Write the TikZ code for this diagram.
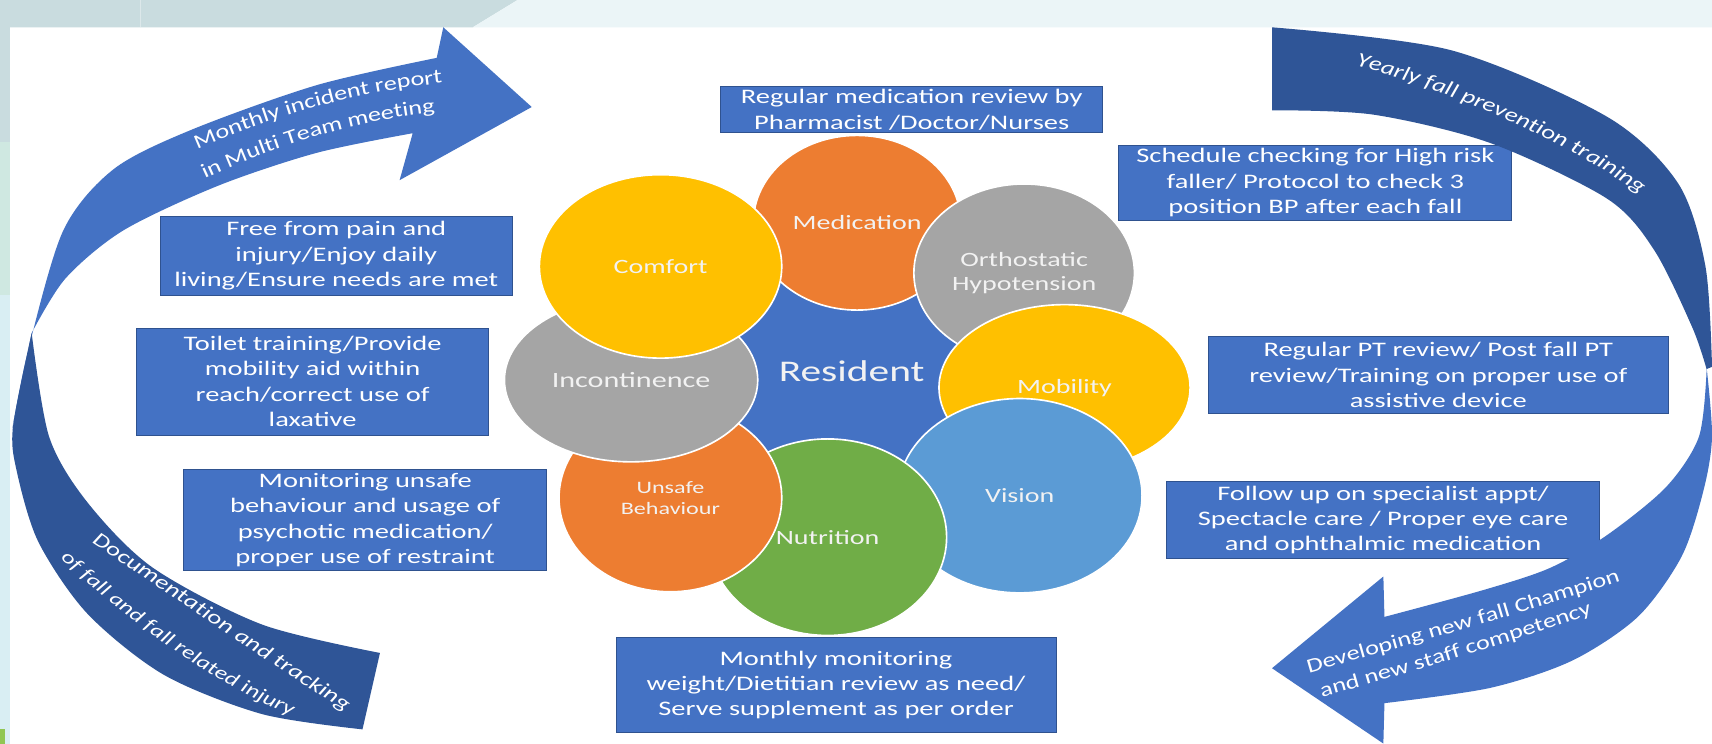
\documentclass[tikz,border=0pt]{standalone}
\usepackage{fontspec}
\setmainfont{Carlito}[FakeStretch=1.38]
\newfontfamily\arcfont{Carlito}[FakeStretch=1.3]
\usepackage{tikz}
\usetikzlibrary{shapes.geometric, decorations.text}

\definecolor{resblue}{HTML}{4472C4}
\definecolor{boxedge}{HTML}{2F528F}
\definecolor{bandblue}{HTML}{2F5597}
\definecolor{medorange}{HTML}{ED7D31}
\definecolor{comfyellow}{HTML}{FFC000}
\definecolor{hypogrey}{HTML}{A5A5A5}
\definecolor{visblue}{HTML}{5B9BD5}
\definecolor{nutgreen}{HTML}{70AD47}
\definecolor{bubbletext}{HTML}{F2F2F2}
\definecolor{stripgrey}{HTML}{C9DCDF}
\definecolor{stripwhite}{HTML}{EBF5F7}
\definecolor{stripline}{HTML}{DCE8EA}
\definecolor{edgegreen}{HTML}{CFE8E1}
\definecolor{edgeblue}{HTML}{D9EEF3}
\definecolor{leafgreen}{HTML}{90C653}

\newcommand\arctextfont{\arcfont\fontsize{18.5}{20}\selectfont}
\newcommand\arcsmallfont{\arcfont\fontsize{17.5}{20}\selectfont}

\begin{document}
\begin{tikzpicture}[x=1pt, y=-1pt,
    bubble/.style={ellipse, draw=white, line width=1.5pt, inner sep=0pt, text=bubbletext, align=center, font=\fontsize{18.6}{22}\selectfont},
    infobox/.style={rectangle, fill=resblue, draw=boxedge, line width=0.8pt, inner sep=0pt, text=white, align=center, font=\fontsize{18.9}{23.3}\selectfont},
    lightarrow/.style={fill=resblue},
    darkband/.style={fill=bandblue},
    arclabel/.style={decorate, decoration={text along path, text align=center, text color=white, raise=-4.5pt, text={|\arctextfont|#1}}},
    darklabel/.style={decorate, decoration={text along path, text align=center, text color=white, raise=-4.5pt, text={|\arctextfont\itshape|#1}}},
    darksmall/.style={decorate, decoration={text along path, text align=center, text color=white, raise=-4.5pt, text={|\arcsmallfont\itshape|#1}}}]
    \useasboundingbox (0,0) rectangle (1568,681);

    \fill[white] (0,0) rectangle (1568,681);
    \fill[stripgrey] (0,0) -- (474,0) -- (433,25) -- (0,25) -- cycle;
    \fill[stripwhite] (474,0) -- (1568,0) -- (1568,25) -- (433,25) -- cycle;
    \draw[stripline, line width=1pt] (129,0) -- (129,25);
    \fill[stripgrey] (0,25) rectangle (9,130);
    \fill[edgegreen] (0,130) rectangle (9,270);
    \fill[edgeblue] (0,270) rectangle (9,681);
    \fill[leafgreen] (0,668) rectangle (5,681);

    \node[bubble, fill=resblue, minimum width=270, minimum height=200, font=\fontsize{27.5}{30}\selectfont] (resident) at (780,340) {Resident};
    \node[bubble, fill=medorange, minimum width=190, minimum height=160] (medication) at (785,204) {Medication};
    \node[bubble, fill=hypogrey, minimum width=202, minimum height=163] (hypotension) at (938,250) {Orthostatic\\Hypotension};
    \node[bubble, fill=comfyellow, minimum width=230, minimum height=152] (mobility) at (975,355) {Mobility};
    \node[bubble, fill=visblue, minimum width=224, minimum height=178] (vision) at (934,454) {Vision};
    \node[bubble, fill=nutgreen, minimum width=218, minimum height=180] (nutrition) at (758,492) {Nutrition};
    \node[bubble, fill=medorange, minimum width=204, minimum height=172, font=\fontsize{16}{19}\selectfont] (behaviour) at (614,456) {Unsafe\\Behaviour};
    \node[bubble, fill=hypogrey, minimum width=232, minimum height=150, font=\fontsize{20}{24}\selectfont] (incontinence) at (578,348) {Incontinence};
    \node[bubble, fill=comfyellow, minimum width=222, minimum height=168] (comfort) at (605,244) {Comfort};

    \node[infobox, minimum width=350, minimum height=42] (medbox) at (835,100.5) {Regular medication review by\\Pharmacist /Doctor/Nurses};
    \node[infobox, minimum width=360, minimum height=69] (hypobox) at (1204.7,167.4) {Schedule checking for High risk\\faller/ Protocol to check 3\\position BP after each fall};
    \node[infobox, minimum width=323, minimum height=72] (comfbox) at (308,234.3) {Free from pain and\\injury/Enjoy daily\\living/Ensure needs are met};
    \node[infobox, minimum width=322.6, minimum height=97.7] (contbox) at (286.3,349.5) {Toilet training/Provide\\mobility aid within\\reach/correct use of\\laxative};
    \node[infobox, minimum width=420.8, minimum height=70.2] (mobbox) at (1317.3,343.5) {Regular PT review/ Post fall PT\\review/Training on proper use of\\assistive device};
    \node[infobox, minimum width=332.3, minimum height=92.8] (behbox) at (334.5,476.3) {Monitoring unsafe\\behaviour and usage of\\psychotic medication/\\proper use of restraint};
    \node[infobox, minimum width=396.7, minimum height=70.2] (visbox) at (1266.7,476.3) {Follow up on specialist appt/\\Spectacle care / Proper eye care\\and ophthalmic medication};
    \node[infobox, minimum width=403, minimum height=87.3] (nutbox) at (765.7,627.4) {Monthly monitoring\\weight/Dietitian review as need/\\Serve supplement as per order};

    \fill[lightarrow] plot[smooth] coordinates {(11,394) (26,320) (58,211) (104,155) (175,119) (290,78) (400,53)}
        -- (406,25) -- (487,98) -- (366,165)
        -- plot[smooth] coordinates {(378,122) (290,140) (200,170) (113,211) (60,255) (29,305)} -- cycle;
    \fill[darkband] plot[smooth] coordinates {(29,305) (45,400) (80,460) (140,520) (240,572) (348,598)}
        -- plot[smooth] coordinates {(332,668) (240,654) (150,618) (80,562) (35,496) (15,430) (12,390) (29,305)} -- cycle;
    \fill[darkband] plot[smooth] coordinates {(1165,25) (1329,46) (1472,107) (1537,168) (1562,244) (1568,336)}
        -- plot[smooth] coordinates {(1563,338) (1550,300) (1515,229) (1472,182) (1365,131) (1258,105) (1165,101)} -- cycle;
    \fill[lightarrow] plot[smooth] coordinates {(1563,336) (1568,400) (1560,450) (1540,510) (1500,565) (1440,605) (1365,630) (1268,644)}
        -- (1267,681) -- (1165,612) -- (1267,528)
        -- plot[smooth] coordinates {(1268,565) (1360,540) (1420,520) (1472,490) (1526,446) (1556,400) (1563,340)} -- cycle;

    \path[arclabel={Monthly incident report}] (165,139) .. controls (250,100) and (330,78) .. (420,70);
    \path[arclabel={in Multi Team meeting}] (172,166) .. controls (255,126) and (330,104) .. (413,97);
    \path[darklabel={Yearly fall prevention training}] (1228,52) .. controls (1310,72) and (1430,118) .. (1517,183);
    \path[darklabel={Documentation and tracking}] (75,486) .. controls (150,535) and (240,598) .. (330,655);
    \path[darksmall={of fall and fall related injury}] (46,497) .. controls (110,557) and (190,621) .. (284,658);
    \path[arclabel={Developing new fall Champion}] (1178,618) .. controls (1280,588) and (1390,560) .. (1502,521);
    \path[arclabel={and new staff competency}] (1192,639) .. controls (1280,615) and (1380,585) .. (1474,552);
\end{tikzpicture}
\end{document}
